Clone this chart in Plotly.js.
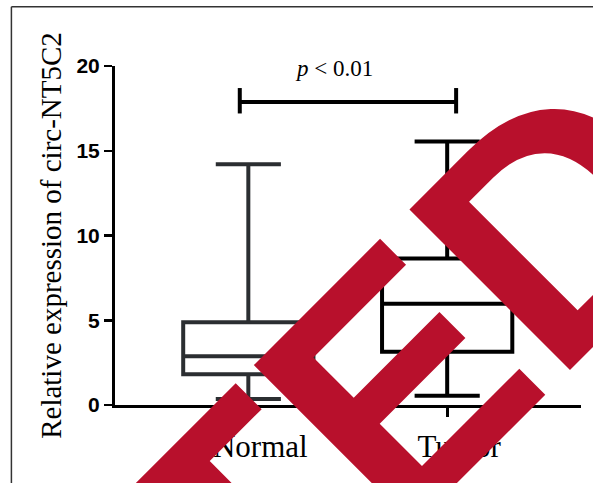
<!DOCTYPE html>
<html>
<head>
<meta charset="utf-8">
<script src="https://cdn.plot.ly/plotly-3.0.1.min.js"></script>
<style>html,body{margin:0;padding:0;background:#fff;}#chart{width:593px;height:483px;}</style>
</head>
<body>
<div id="chart"></div>
<script>
// ---- data ----
const categories = ['Normal', 'Tumor'];
const lowerFence = [0.35, 0.55];
const q1 = [1.82, 3.14];
const median = [2.88, 5.98];
const q3 = [4.88, 8.64];
const upperFence = [14.2, 15.55];
const boxColors = ['#2b2e31', '#000000'];
const yTickVals = [0, 5, 10, 15, 20];
const yTickText = ['0', '5', '10', '15', '20'];
const pLabel = '<i>p</i> < 0.01';
const watermark = 'RETRACTED';

const traces = categories.map((c, i) => ({
  type: 'box',
  name: c,
  x: [c],
  q1: [q1[i]],
  median: [median[i]],
  q3: [q3[i]],
  lowerfence: [lowerFence[i]],
  upperfence: [upperFence[i]],
  boxpoints: false,
  width: 0.655,
  whiskerwidth: 0.5,
  fillcolor: 'rgba(255,255,255,0)',
  line: {color: boxColors[i], width: 4},
  hoverinfo: 'skip',
  showlegend: false
}));

const serif = '"Liberation Serif", "Times New Roman", Times, serif';
const sans = '"Liberation Sans", Arial, Helvetica, sans-serif';

const layout = {
  width: 593, height: 483,
  margin: {l: 115.4, r: 12.4, t: 65.7, b: 78},
  paper_bgcolor: '#ffffff',
  plot_bgcolor: '#ffffff',
  showlegend: false,
  xaxis: {
    type: 'category',
    range: [-0.6705, 1.673],
    showgrid: false, zeroline: false,
    showline: true, linecolor: '#000', linewidth: 3,
    ticks: 'outside', ticklen: 9, tickwidth: 3, tickcolor: '#000',
    tickvals: categories, ticktext: categories,
    tickfont: {family: serif, size: 31, color: '#000'},
    ticklabelshift: 12,
    ticklabelstandoff: 3,
    fixedrange: true
  },
  yaxis: {
    range: [0, 20],
    showgrid: false, zeroline: false,
    showline: true, linecolor: '#000', linewidth: 3,
    ticks: 'outside', ticklen: 8, tickwidth: 2.5, tickcolor: '#000',
    tickvals: yTickVals, ticktext: yTickText,
    tickfont: {family: sans, size: 21, color: '#000', weight: 'bold'},
    title: {text: 'Relative expression of circ-NT5C2', font: {family: serif, size: 29, color: '#000'}, standoff: 7},
    fixedrange: true
  },
  shapes: [
    // frame
    {type: 'line', xref: 'paper', yref: 'paper', x0: -0.2223, x1: -0.2223, y0: 1.1745, y1: -0.25, line: {color: '#333', width: 1.5}},
    {type: 'line', xref: 'paper', yref: 'paper', x0: -0.2223, x1: 1.46, y0: 1.1745, y1: 1.1745, line: {color: '#333', width: 1.5}},
    // significance bracket
    {type: 'line', xref: 'x', yref: 'y', x0: -0.043, x1: 1.045, y0: 17.88, y1: 17.88, line: {color: '#000', width: 4}},
    {type: 'line', xref: 'x', yref: 'y', x0: -0.043, x1: -0.043, y0: 17.2, y1: 18.7, line: {color: '#000', width: 4}},
    {type: 'line', xref: 'x', yref: 'y', x0: 1.045, x1: 1.045, y0: 17.2, y1: 18.7, line: {color: '#000', width: 4}}
  ],
  annotations: [
    {xref: 'x', yref: 'y', x: 0.43, y: 19.85, text: pLabel, showarrow: false,
     font: {family: serif, size: 23, color: '#000'}, xanchor: 'center', yanchor: 'middle'},
    {xref: 'paper', yref: 'paper', x: -0.413, y: -1.329, text: '<b>' + watermark + '</b>', showarrow: false,
     textangle: -45, font: {family: sans, size: 330, color: '#b8102c'}, xanchor: 'center', yanchor: 'middle'}
  ]
};

Plotly.newPlot('chart', traces, layout, {displayModeBar: false, staticPlot: true});
</script>
</body>
</html>
